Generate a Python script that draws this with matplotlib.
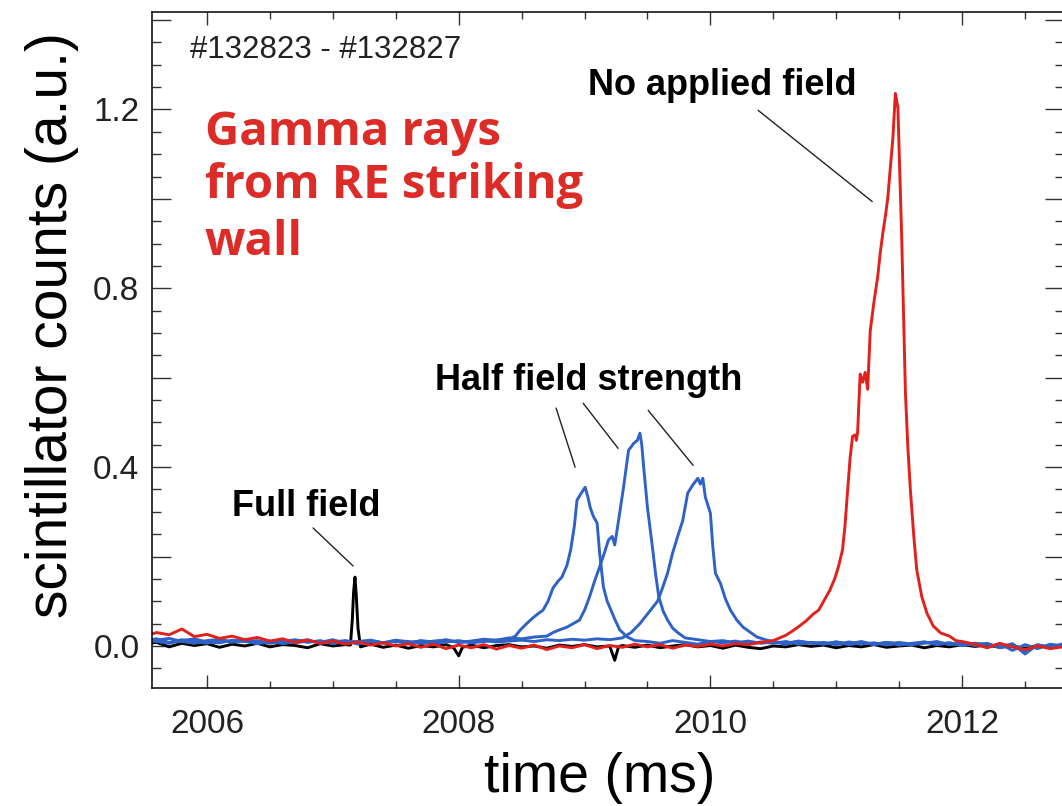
import numpy as np
import matplotlib.pyplot as plt
from matplotlib.ticker import MultipleLocator

# baseline samples are 0.1 ms apart; peak samples are listed with their own times
STEP = 0.1

# --- red: no applied field ---
red_pre = [0.022, 0.030, 0.025, 0.038, 0.021, 0.026, 0.017, 0.022, 0.014, 0.019,
           0.011, 0.016, 0.008, 0.013, 0.006, 0.011, 0.004, 0.009, 0.002, 0.007,
           0.000, 0.005, -0.003, 0.004, -0.006, 0.002, -0.004, 0.003, -0.007, 0.001,
           -0.005, 0.002, -0.008, 0.000, -0.004, 0.003, -0.006, 0.001, -0.003, 0.004,
           -0.002, 0.003, -0.005, 0.002, -0.001, 0.004, 0.000, 0.005, 0.003, 0.008]
red_peak_t = [2010.5, 2010.55, 2010.6, 2010.65, 2010.71, 2010.76, 2010.82, 2010.86,
              2010.9, 2010.95, 2010.99, 2011.02, 2011.05, 2011.07, 2011.09, 2011.11,
              2011.13, 2011.15, 2011.16, 2011.17, 2011.19, 2011.21, 2011.23, 2011.25,
              2011.27, 2011.30, 2011.33, 2011.35, 2011.37, 2011.39, 2011.41, 2011.43,
              2011.45, 2011.47, 2011.49, 2011.505, 2011.52, 2011.535, 2011.55, 2011.57,
              2011.59, 2011.615, 2011.64, 2011.68, 2011.72, 2011.77, 2011.83, 2011.9,
              2011.95, 2012.0]
red_peak_v = [0.012, 0.018, 0.024, 0.033, 0.045, 0.056, 0.072, 0.080,
              0.100, 0.125, 0.152, 0.180, 0.215, 0.270, 0.346, 0.420,
              0.469, 0.472, 0.460, 0.478, 0.608, 0.590, 0.612, 0.574,
              0.704, 0.770, 0.827, 0.880, 0.923, 0.960, 1.003, 1.070,
              1.135, 1.236, 1.204, 1.060, 0.916, 0.740, 0.565, 0.440,
              0.346, 0.250, 0.170, 0.110, 0.074, 0.045, 0.029, 0.022,
              0.012, 0.010]
red_post = [0.004, -0.004, 0.006, -0.002, -0.008, 0.000, -0.006, -0.002]

# --- blue: half field strength, three shots ---
blue_a_pre = [0.012, 0.016, 0.008, 0.014, 0.010, 0.006, 0.013, 0.009, 0.015, 0.007,
              0.011, 0.005, 0.010, 0.014, 0.006, 0.009, 0.012, 0.004, 0.010, 0.007,
              0.013, 0.008, 0.011, 0.005, 0.009, 0.012, 0.007, 0.010, 0.013, 0.015]
blue_a_peak_t = [2008.45, 2008.49, 2008.54, 2008.59, 2008.63, 2008.67, 2008.71, 2008.75,
                 2008.79, 2008.82, 2008.86, 2008.89, 2008.92, 2008.94, 2008.97, 2009.005,
                 2009.025, 2009.045, 2009.07, 2009.10, 2009.12, 2009.15, 2009.18, 2009.20,
                 2009.24, 2009.28, 2009.34, 2009.4]
blue_a_peak_v = [0.022, 0.036, 0.050, 0.063, 0.072, 0.080, 0.100, 0.130,
                 0.145, 0.154, 0.180, 0.215, 0.270, 0.326, 0.340, 0.355,
                 0.335, 0.310, 0.290, 0.275, 0.208, 0.132, 0.100, 0.087,
                 0.060, 0.036, 0.020, 0.012]
blue_a_post = [0.010, 0.006, 0.012, 0.008, 0.004, 0.010, 0.007, 0.011, 0.005, 0.009,
               0.006, 0.010, 0.004, 0.008, 0.005, 0.009, 0.003, 0.007, 0.004, 0.008,
               0.002, 0.006, 0.009, 0.003, 0.007, 0.001, 0.006, 0.004, -0.002, 0.005,
               -0.018, 0.003, -0.004, 0.002]

blue_b_pre = [0.008, 0.013, 0.017, 0.010, 0.006, 0.012, 0.015, 0.009, 0.011, 0.005,
              0.009, 0.013, 0.007, 0.011, 0.008, 0.014, 0.006, 0.010, 0.012, 0.007,
              0.010, 0.006, 0.012, 0.009, 0.014, 0.008, 0.011, 0.015, 0.013, 0.018,
              0.016, 0.020]
blue_b_peak_t = [2008.7, 2008.75, 2008.8, 2008.86, 2008.91, 2008.96, 2009.0, 2009.04,
                 2009.08, 2009.12, 2009.16, 2009.19, 2009.22, 2009.24, 2009.27, 2009.31,
                 2009.35, 2009.37, 2009.39, 2009.42, 2009.44, 2009.455, 2009.47, 2009.50,
                 2009.54, 2009.565, 2009.59, 2009.625, 2009.66, 2009.7, 2009.74, 2009.8]
blue_b_peak_v = [0.022, 0.030, 0.036, 0.042, 0.050, 0.058, 0.080, 0.110,
                 0.145, 0.177, 0.210, 0.237, 0.245, 0.226, 0.280, 0.355,
                 0.438, 0.445, 0.453, 0.460, 0.476, 0.450, 0.400, 0.310,
                 0.220, 0.160, 0.110, 0.078, 0.058, 0.040, 0.030, 0.018]
blue_b_post = [0.014, 0.010, 0.012, 0.007, 0.011, 0.006, 0.009, 0.004, 0.010, 0.006,
               0.008, 0.003, 0.009, 0.005, 0.007, 0.002, 0.008, 0.004, 0.006, 0.010,
               0.003, 0.007, 0.001, 0.006, -0.004, 0.004, -0.012, 0.002, -0.003, 0.005]

blue_c_pre = [0.015, 0.010, 0.006, 0.012, 0.016, 0.009, 0.007, 0.013, 0.010, 0.012,
              0.006, 0.010, 0.014, 0.008, 0.012, 0.005, 0.011, 0.009, 0.013, 0.007,
              0.012, 0.010, 0.006, 0.011, 0.013, 0.008, 0.010, 0.012, 0.009, 0.011,
              0.013, 0.010, 0.014, 0.012, 0.015, 0.013, 0.016, 0.014]
blue_c_peak_t = [2009.3, 2009.37, 2009.44, 2009.51, 2009.58, 2009.62, 2009.66, 2009.70,
                 2009.74, 2009.78, 2009.82, 2009.86, 2009.90, 2009.92, 2009.94, 2009.96,
                 2010.0, 2010.02, 2010.04, 2010.08, 2010.12, 2010.16, 2010.21, 2010.26,
                 2010.32, 2010.37, 2010.45]
blue_c_peak_v = [0.018, 0.030, 0.050, 0.075, 0.100, 0.130, 0.163, 0.208,
                 0.245, 0.280, 0.342, 0.360, 0.375, 0.362, 0.375, 0.333,
                 0.297, 0.220, 0.163, 0.140, 0.105, 0.080, 0.058, 0.042,
                 0.030, 0.020, 0.013]
blue_c_post = [0.010, 0.006, 0.011, 0.007, 0.004, 0.009, 0.005, 0.010, 0.003, 0.008,
               0.006, 0.002, 0.009, 0.004, 0.007, 0.001, 0.006, -0.003, 0.005, -0.010,
               0.003, -0.006, 0.004, 0.000]

# --- black: full field ---
black_pre = [0.004, 0.008, -0.002, 0.006, 0.001, 0.005, -0.003, 0.004, 0.000, 0.006,
             -0.002, 0.003, 0.001, -0.004, 0.005, 0.000, 0.003]
black_spike_t = [2007.14, 2007.155, 2007.165, 2007.176, 2007.187, 2007.2, 2007.22]
black_spike_v = [0.002, 0.060, 0.120, 0.154, 0.110, 0.040, -0.002]
black_mid1 = [0.004, -0.003, 0.002, -0.005, 0.001, -0.002, 0.003]
black_dip1_t = [2007.96, 2008.0, 2008.03]
black_dip1_v = [-0.004, -0.022, -0.003]
black_mid2 = [0.002, -0.004, 0.001, 0.003, -0.002, 0.000, -0.005, 0.002, -0.001, 0.003,
              -0.002]
black_dip2_t = [2009.2, 2009.24, 2009.27]
black_dip2_v = [0.000, -0.032, -0.002]
black_post = [0.001, -0.003, 0.002, -0.004, 0.000, 0.003, -0.002, 0.001, -0.005, 0.002,
              -0.003, -0.006, 0.000, -0.002, 0.003, -0.001, 0.002, -0.004, 0.001, -0.002,
              0.003, -0.003, 0.000, 0.002, -0.004, 0.001, -0.002, 0.003, -0.001, 0.002,
              -0.003, 0.000, -0.005, 0.001, -0.002, 0.002]

Y_TICKS = [0.0, 0.2, 0.4, 0.6, 0.8, 1.0, 1.2, 1.4]
Y_TICK_LABELS = ["0.0", "", "0.4", "", "0.8", "", "1.2", ""]
X_TICKS = [2006, 2008, 2010, 2012]


def grid(t0, vals):
    return t0 + STEP * np.arange(len(vals)), np.asarray(vals, dtype=float)


def join(*segments):
    t = np.concatenate([np.asarray(s[0], dtype=float) for s in segments])
    v = np.concatenate([np.asarray(s[1], dtype=float) for s in segments])
    return t, v


black = join(grid(2005.5, black_pre), (black_spike_t, black_spike_v),
             grid(2007.3, black_mid1), (black_dip1_t, black_dip1_v),
             grid(2008.1, black_mid2), (black_dip2_t, black_dip2_v),
             grid(2009.3, black_post))
blue_a = join(grid(2005.5, blue_a_pre), (blue_a_peak_t, blue_a_peak_v),
              grid(2009.5, blue_a_post))
blue_b = join(grid(2005.5, blue_b_pre), (blue_b_peak_t, blue_b_peak_v),
              grid(2009.9, blue_b_post))
blue_c = join(grid(2005.5, blue_c_pre), (blue_c_peak_t, blue_c_peak_v),
              grid(2010.5, blue_c_post))
red = join(grid(2005.5, red_pre), (red_peak_t, red_peak_v),
           grid(2012.1, red_post))

RED = "#e3211c"
BLUE = "#2f62c6"
TEXT_RED = "#dd2c27"

plt.rcParams["font.family"] = ["Liberation Sans", "DejaVu Sans"]

fig = plt.figure(figsize=(10.62, 8.06), dpi=100)
ax = fig.add_axes([0.1431, 0.1464, 0.8588, 0.8387])

lw = 2.1
ax.plot(*black, color="black", lw=lw)
for trace in (blue_a, blue_b, blue_c):
    ax.plot(*trace, color=BLUE, lw=lw)
ax.plot(*red, color=RED, lw=lw)

ax.set_xlim(2005.563, 2012.81)
ax.set_ylim(-0.094, 1.418)

ax.set_xticks(X_TICKS, [str(x) for x in X_TICKS])
ax.set_yticks(Y_TICKS, Y_TICK_LABELS)
ax.xaxis.set_minor_locator(MultipleLocator(0.5))
ax.yaxis.set_minor_locator(MultipleLocator(0.05))
ax.tick_params(axis="both", which="both", direction="in", top=True, right=True,
               width=1.0, color="#333333", labelsize=24, labelcolor="#222222")
ax.tick_params(axis="x", which="major", length=9.5, pad=15)
ax.tick_params(axis="x", which="minor", length=5)
ax.tick_params(axis="y", which="major", length=13.5, pad=9)
ax.tick_params(axis="y", which="minor", length=6.5)
for sp in ax.spines.values():
    sp.set_linewidth(1.1)

ax.set_xlabel("time (ms)", fontsize=40)
ax.xaxis.set_label_coords(0.491, -0.095)
ax.set_ylabel("scintillator counts (a.u.)", fontsize=41)
ax.yaxis.set_label_coords(-0.08, 0.537)

ax.text(2005.865, 1.332, "#132823 - #132827", fontsize=22.5, color="#222222",
        va="center", ha="left")

for y, line in zip([1.12, 1.001, 0.874], ["Gamma rays", "from RE striking", "wall"]):
    ax.text(2005.984, y, line, fontsize=34, color=TEXT_RED, fontweight="bold",
            family=["Open Sans", "DejaVu Sans"], va="baseline", ha="left")

note = dict(fontsize=26, fontweight="bold", ha="center", va="center")
arrow = dict(arrowstyle="-", color="#222222", lw=1.0, shrinkA=0, shrinkB=0)

ax.text(2010.094, 1.254, "No applied field", **note)
ax.annotate("", xy=(2011.286, 0.994), xytext=(2010.38, 1.198), arrowprops=arrow)

ax.text(2009.037, 0.594, "Half field strength", **note)
for start, end in [((2008.774, 0.532), (2008.925, 0.400)),
                   ((2008.989, 0.543), (2009.267, 0.442)),
                   ((2009.506, 0.527), (2009.863, 0.404))]:
    ax.annotate("", xy=end, xytext=start, arrowprops=arrow)

ax.text(2006.787, 0.311, "Full field", **note)
ax.annotate("", xy=(2007.161, 0.179), xytext=(2006.843, 0.264), arrowprops=arrow)

fig.savefig("out.png", dpi=100)
